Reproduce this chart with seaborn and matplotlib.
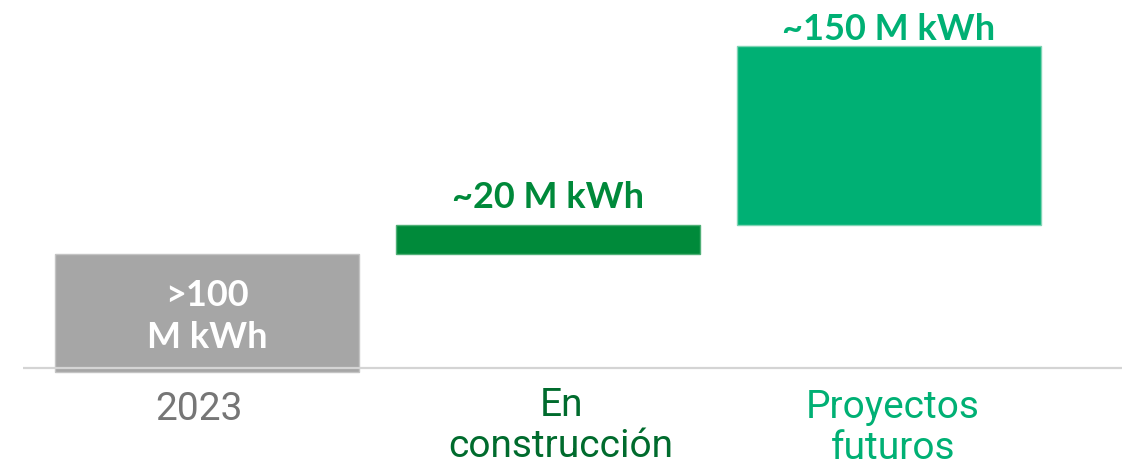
import matplotlib
matplotlib.use("Agg")
import matplotlib.pyplot as plt
import seaborn as sns
import pandas as pd

# ---- data ----
categories = ["2023", "En\nconstrucción", "Proyectos\nfuturos"]
values = [100, 24.5, 152]            # bar heights (M kWh, estimated)
bottoms = [0, 100, 124.5]            # waterfall starts
value_labels = [">100\nM kWh", "~20 M kWh", "~150 M kWh"]
bar_colors = ["#A6A6A6", "#008A3A", "#00B074"]
edge_colors = ["#C4C4C4", "#4FAF76", "#7FD4B4"]
value_label_colors = ["#FFFFFF", "#00893A", "#00B074"]
cat_label_colors = ["#767676", "#006B2D", "#00B074"]

sns.set_theme(style="white")
plt.rcParams["font.family"] = ["Lato", "DejaVu Sans"]

W, H = 1122, 468
fig = plt.figure(figsize=(W / 100, H / 100), dpi=100)
ax = fig.add_axes([0, 0, 1, 1])

px_per_unit = 1.18
x0_px, step_px = 207, 341
base_px = 372

for i, cat in enumerate(categories):
    sns.barplot(x=[cat], y=[values[i]], bottom=bottoms[i], order=categories,
                color=bar_colors[i], saturation=1, width=0.894,
                edgecolor=edge_colors[i], linewidth=1.0, ax=ax, zorder=2)

ax.set_xlim(-x0_px / step_px, (W - x0_px) / step_px)
ax.set_ylim(-(H - base_px) / px_per_unit, base_px / px_per_unit)

# baseline
ax.plot([(23 - x0_px) / step_px, (W - x0_px) / step_px], [3.4, 3.4],
        color="#D4D4D4", lw=1.6, zorder=3, solid_capstyle="butt")

pt = 72 / 100  # points per pixel
# inside label for first bar (last-line baseline 24 px above the bar bottom)
ax.annotate(value_labels[0], xy=(0, 0), xytext=(0, 24 * pt), textcoords="offset points",
            ha="center", va="baseline", color=value_label_colors[0], fontsize=26,
            fontweight="bold", linespacing=1.35, zorder=4)
gaps_px = [0, 17, 6]
for i in (1, 2):
    ax.annotate(value_labels[i], xy=(i, bottoms[i] + values[i]),
                xytext=(0, gaps_px[i] * pt), textcoords="offset points",
                ha="center", va="baseline", color=value_label_colors[i],
                fontsize=26, fontweight="bold", zorder=4)

# category labels (offset of last-line baseline below bar bottom, px)
cat_baseline_px = [48, 85, 87]
cat_dx_px = [-8, 13, 4]
for i, cat in enumerate(categories):
    ax.annotate(cat, xy=(i, 0), xytext=(cat_dx_px[i] * pt, -cat_baseline_px[i] * pt),
                textcoords="offset points", ha="center", va="baseline",
                color=cat_label_colors[i], fontsize=28, family=["Roboto", "DejaVu Sans"],
                linespacing=1.13, zorder=4)

ax.set_axis_off()
fig.savefig("out.png", dpi=100)
